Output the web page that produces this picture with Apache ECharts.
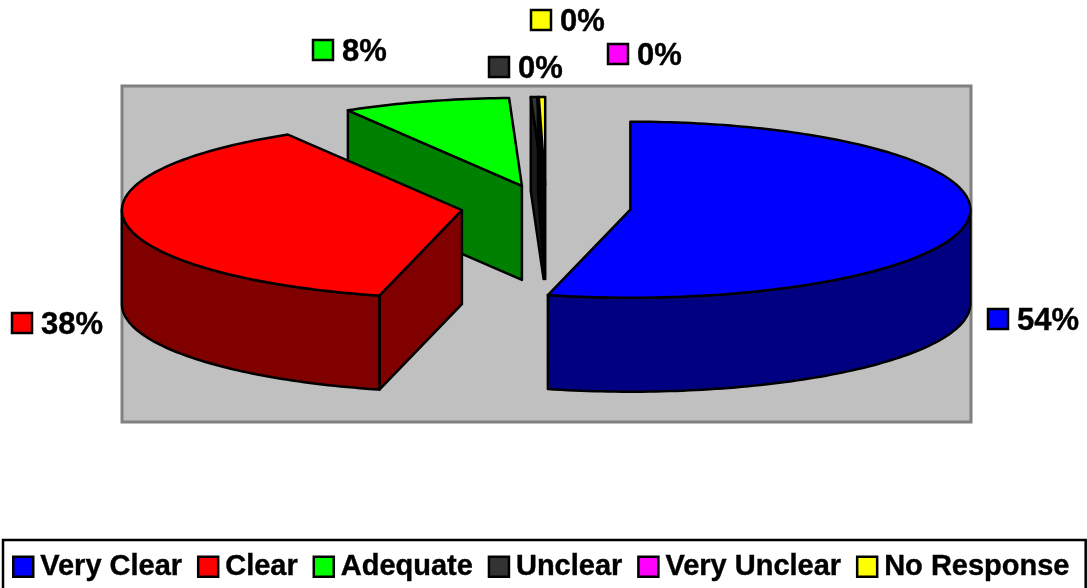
<!DOCTYPE html>
<html>
<head>
<meta charset="utf-8">
<style>
html, body { margin: 0; padding: 0; background: #fff; }
#chart { width: 1087px; height: 588px; }
</style>
<script src="https://cdn.jsdelivr.net/npm/echarts@6/dist/echarts.min.js"></script>
</head>
<body>
<div id="chart"></div>
<script>
// data
var categories = ['Very Clear', 'Clear', 'Adequate', 'Unclear', 'Very Unclear', 'No Response'];
var shares = [53.9, 37.55, 7.95, 0.3, 0, 0.3];

// looks
var topColors = ['#0000FF', '#FF0000', '#00FF00', '#333333', '#FF00FF', '#FFFF00'];
var sideColors = ['#000080', '#800000', '#008000', '#1A1A1A', '#000000', '#000000'];
var drawOrder = [3, 4, 1, 2, 2, 2];
var labelSpots = [[998, 319], [22, 323], [323, 50], [499, 67], [618, 54], [541, 20]];

var font = 'bold 31px "Liberation Sans", Arial, sans-serif';
var pie = { cx: 546, cy: 207, rx: 340, ry: 88, depth: 94, explode: 0.25 };

var total = shares.reduce(function(a, b) { return a + b; }, 0);
var starts = [];
shares.reduce(function(sum, v, i) {
    starts[i] = sum;
    return sum + v;
}, 0);

function toAngle(v) {
    return v / total * 2 * Math.PI;
}

function rimPoint(c, t, drop) {
    return [c[0] + pie.rx * Math.sin(t), c[1] - pie.ry * Math.cos(t) + (drop || 0)];
}

function polygon(points, fill) {
    return {
        type: 'polygon',
        shape: { points: points },
        style: { fill: fill, stroke: '#000', lineWidth: 2.5, lineJoin: 'round' }
    };
}

function arc(c, from, to, drop) {
    var pts = [];
    var steps = Math.max(1, Math.ceil((to - from) / 0.02));
    for (var k = 0; k <= steps; k++) {
        pts.push(rimPoint(c, from + (to - from) * k / steps, drop));
    }
    return pts;
}

function renderSlice(i, api) {
    var a = toAngle(starts[i]);
    var b = a + toAngle(api.value(0));
    var mid = (a + b) / 2;
    var c = [
        pie.cx + pie.explode * pie.rx * Math.sin(mid),
        pie.cy - pie.explode * pie.ry * Math.cos(mid)
    ];
    var parts = [];

    // cut face, only when it turns towards the viewer
    if (Math.sin(a) < 0) {
        parts.push(polygon([c, rimPoint(c, a), rimPoint(c, a, pie.depth), [c[0], c[1] + pie.depth]], sideColors[i]));
    }
    if (Math.sin(b) > 0) {
        parts.push(polygon([c, rimPoint(c, b), rimPoint(c, b, pie.depth), [c[0], c[1] + pie.depth]], sideColors[i]));
    }

    // outer wall, front half of the rim
    var from = Math.max(a, Math.PI / 2);
    var to = Math.min(b, Math.PI * 1.5);
    if (to > from) {
        parts.push(polygon(arc(c, from, to, 0).concat(arc(c, from, to, pie.depth).reverse()), sideColors[i]));
    }

    parts.push(polygon([c].concat(arc(c, a, b, 0)), topColors[i]));

    // value label with its colour key
    var spot = labelSpots[i];
    parts.push({
        type: 'rect',
        shape: { x: spot[0] - 10, y: spot[1] - 10, width: 20, height: 20 },
        style: { fill: topColors[i], stroke: '#000', lineWidth: 2.5 }
    });
    parts.push({
        type: 'text',
        style: {
            text: Math.round(api.value(0)) + '%',
            x: spot[0] + 19,
            y: spot[1] + 2,
            fill: '#000',
            stroke: '#000',
            lineWidth: 0.4,
            font: font,
            align: 'left',
            verticalAlign: 'middle'
        }
    });
    return { type: 'group', children: parts };
}

var chart = echarts.init(document.getElementById('chart'));
chart.setOption({
    animation: false,
    backgroundColor: '#fff',
    legend: {
        data: categories,
        left: 3,
        top: 540,
        padding: [12, 16, 40, 9],
        itemWidth: 20,
        itemHeight: 20,
        itemGap: 14.6,
        icon: 'rect',
        borderColor: '#000',
        borderWidth: 2.5,
        selectedMode: false,
        itemStyle: { borderColor: '#000', borderWidth: 2.5 },
        textStyle: {
            color: '#000',
            fontFamily: '"Liberation Sans", Arial, sans-serif',
            fontWeight: 'bold',
            fontSize: 29,
            textBorderColor: '#000',
            textBorderWidth: 0.4,
            padding: [0, 0, 0, 2]
        }
    },
    graphic: [{
        type: 'rect',
        z: 0,
        shape: { x: 122, y: 86, width: 849, height: 336 },
        style: { fill: '#C0C0C0', stroke: '#808080', lineWidth: 3 }
    }],
    series: categories.map(function(name, i) {
        return {
            name: name,
            type: 'custom',
            coordinateSystem: 'none',
            z: drawOrder[i],
            silent: true,
            itemStyle: { color: topColors[i] },
            data: [[shares[i]]],
            renderItem: function(params, api) {
                return renderSlice(i, api);
            }
        };
    })
});
</script>
</body>
</html>
